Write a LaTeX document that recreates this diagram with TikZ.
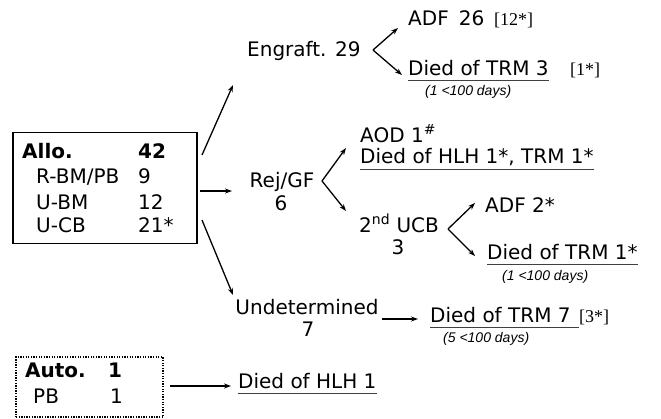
\documentclass[tikz,border=0pt]{standalone}
\usepackage{fontspec}
\setmainfont{DejaVu Sans}
\newfontfamily\itf{Liberation Sans}
\newfontfamily\brf{Liberation Serif}
\usetikzlibrary{arrows.meta}
\begin{document}
\begin{tikzpicture}[x=1pt,y=-1pt,
  t/.style={inner sep=0pt,font=\fontsize{20}{23}\selectfont},
  tb/.style={inner sep=0pt,font=\fontsize{20}{23}\selectfont\bfseries},
  it/.style={inner sep=0pt,font=\fontsize{14}{16}\selectfont\itf\itshape},
  br/.style={inner sep=0pt,font=\fontsize{18}{20}\selectfont\brf},
  arr/.style={line width=1.3pt,-{Stealth[length=7pt,width=5pt]}},
  ul/.style={line width=1pt,black!75},
  bw/.style={anchor=base west},
  bc/.style={anchor=base}]
\useasboundingbox (0,0) rectangle (661,418);

% Allo box
\node[draw,line width=1.6pt,minimum width=184pt,minimum height=111pt,inner sep=0pt] (allo) at (105,188) {};
\node[tb,bw] (allo1) at (22,158) {Allo.};
\node[tb,bw] (allo2) at (138,158) {42};
\node[t,bw] (r1) at (36,183) {R-BM/PB};
\node[t,bw] (r1n) at (138,183) {9};
\node[t,bw] (r2) at (36,209) {U-BM};
\node[t,bw] (r2n) at (138,209) {12};
\node[t,bw] (r3) at (36,232) {U-CB};
\node[t,bw] (r3n) at (138,232) {21*};

\coordinate (a1) at (202,155);
\coordinate (a2) at (200,191);
\coordinate (a3) at (202,220);

% Engraft branch
\node[t,bw] (eng) at (247,56) {Engraft. 29};
\coordinate (e1) at (233,85);
\draw[arr] (a1) -- (e1);
\node[t,bw] (adf) at (408,25) {ADF\hspace{10pt}26};
\node[br,bw] (adfs) at (494,25) {[12*]};
\node[t,bw] (dt3) at (408,75) {Died of TRM 3};
\node[br,bw] (dt3s) at (570,75) {[1*]};
\node[it,bw] (d1) at (425,95) {(1 <100 days)};
\draw[ul] ([yshift=-5pt]dt3.base west) -- ([yshift=-5pt]dt3.base east);
\coordinate (ev) at (373,50);
\coordinate (eu) at (398,28);
\coordinate (ed) at (402,75);
\draw[arr] (ev) -- (eu);
\draw[arr] (ev) -- (ed);

% Rej/GF branch
\coordinate (r0) at (232,191);
\draw[arr] (a2) -- (r0);
\node[t,bc] (rej) at (282,187) {Rej/GF};
\node[t,bc] (rejn) at (281,210) {6};
\coordinate (rv) at (322,181);
\coordinate (ru) at (346,148);
\coordinate (rd) at (346,211);
\draw[arr] (rv) -- (ru);
\draw[arr] (rv) -- (rd);
\node[t,bw] (aod) at (360,142) {AOD 1\textsuperscript{\#}};
\node[t,bw] (dhlh) at (360,163) {Died of HLH 1*, TRM 1*};
\draw[ul] ([yshift=-6pt]dhlh.base west) -- ([yshift=-6pt]dhlh.base east);

% 2nd UCB branch
\node[t,bc] (ucb) at (399,232) {2\textsuperscript{nd} UCB};
\node[t,bc] (ucbn) at (398,254) {3};
\coordinate (uv) at (448,229);
\coordinate (uu) at (475,203);
\coordinate (ud) at (475,256);
\draw[arr] (uv) -- (uu);
\draw[arr] (uv) -- (ud);
\node[t,bw] (adf2) at (485,212) {ADF 2*};
\node[t,bw] (dt1) at (487,259) {Died of TRM 1*};
\draw[ul] ([yshift=-5pt]dt1.base west) -- ([yshift=-5pt]dt1.base east);
\node[it,bw] (d2) at (502,280) {(1 <100 days)};

% Undetermined branch
\coordinate (u0) at (233,295);
\draw[arr] (a3) -- (u0);
\node[t,bc] (und) at (307,314) {Undetermined};
\node[t,bc] (undn) at (308,336) {7};
\coordinate (us) at (382,319);
\coordinate (ue) at (418,319);
\draw[arr] (us) -- (ue);
\node[t,bw] (dt7) at (430,322) {Died of TRM 7};
\node[br,bw] (dt7s) at (579,322) {[3*]};
\draw[ul] ([yshift=-5pt]dt7.base west) -- ([yshift=-5pt]dt7s.base west);
\node[it,bw] (d5) at (443,342) {(5 <100 days)};

% Auto box
\node[draw,line width=1.3pt,dash pattern=on 1.3pt off 1.3pt,minimum width=147pt,minimum height=60pt,inner sep=0pt] (auto) at (89.5,387) {};
\node[tb,bw] (auto1) at (25,377) {Auto.};
\node[tb,bw] (auto2) at (108,377) {1};
\node[t,bw] (pb) at (33,403) {PB};
\node[t,bw] (pbn) at (110,403) {1};
\coordinate (h0) at (170,386);
\coordinate (h1) at (231,386);
\draw[arr] (h0) -- (h1);
\node[t,bw] (dhlh1) at (238,388) {Died of HLH 1};
\draw[ul] ([yshift=-5pt]dhlh1.base west) -- ([yshift=-5pt]dhlh1.base east);
\end{tikzpicture}
\end{document}
